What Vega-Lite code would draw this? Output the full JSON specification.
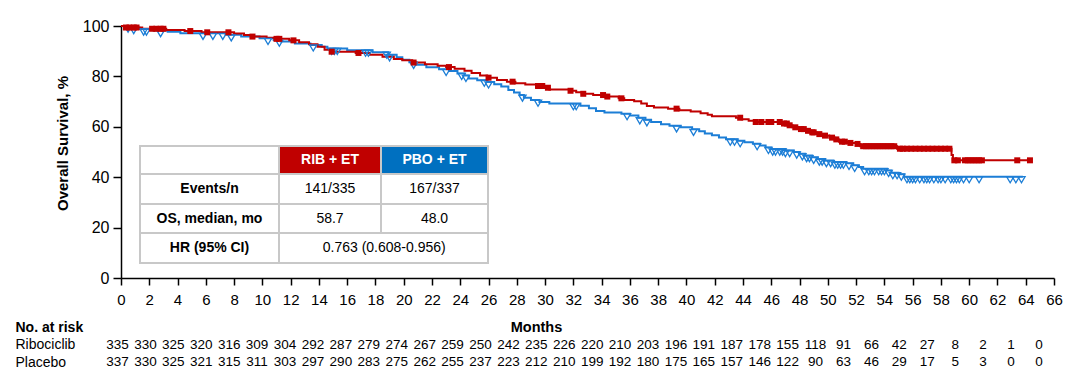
{
  "$schema": "https://vega.github.io/schema/vega-lite/v6.json",
  "width": 933,
  "height": 252,
  "autosize": {"type": "none"},
  "padding": {"left": 121, "top": 26, "right": 26, "bottom": 109},
  "background": "white",
  "config": {"font": "Liberation Sans", "view": {"stroke": null}},
  "datasets": {
    "km": [
      {"arm":"Placebo","t":0,"s":100},{"arm":"Placebo","t":0.7,"s":99.4},{"arm":"Placebo","t":1.3,"s":98.8},{"arm":"Placebo","t":2.3,"s":98.2},{"arm":"Placebo","t":3.3,"s":97.7},{"arm":"Placebo","t":4.2,"s":97.1},{"arm":"Placebo","t":7.4,"s":96.5},{"arm":"Placebo","t":8.5,"s":95.8},{"arm":"Placebo","t":9.8,"s":95.1},{"arm":"Placebo","t":10.8,"s":94.4},{"arm":"Placebo","t":11.3,"s":93.8},{"arm":"Placebo","t":12.3,"s":93.1},{"arm":"Placebo","t":13.4,"s":92.5},{"arm":"Placebo","t":14.2,"s":91.8},{"arm":"Placebo","t":14.6,"s":91.1},{"arm":"Placebo","t":16.0,"s":90.4},{"arm":"Placebo","t":17.8,"s":89.6},{"arm":"Placebo","t":18.9,"s":88.6},{"arm":"Placebo","t":19.5,"s":87.6},{"arm":"Placebo","t":19.9,"s":86.6},{"arm":"Placebo","t":20.4,"s":85.6},{"arm":"Placebo","t":20.9,"s":84.6},{"arm":"Placebo","t":21.6,"s":83.6},{"arm":"Placebo","t":22.5,"s":82.8},{"arm":"Placebo","t":23.2,"s":82.1},{"arm":"Placebo","t":23.8,"s":81.2},{"arm":"Placebo","t":24.3,"s":80.4},{"arm":"Placebo","t":24.6,"s":79.2},{"arm":"Placebo","t":25.2,"s":78.5},{"arm":"Placebo","t":25.9,"s":77.8},{"arm":"Placebo","t":26.4,"s":76.9},{"arm":"Placebo","t":26.9,"s":76.0},{"arm":"Placebo","t":27.4,"s":74.6},{"arm":"Placebo","t":27.8,"s":73.6},{"arm":"Placebo","t":28.2,"s":72.6},{"arm":"Placebo","t":28.5,"s":71.5},{"arm":"Placebo","t":29.0,"s":70.6},{"arm":"Placebo","t":29.6,"s":69.8},{"arm":"Placebo","t":30.3,"s":69.2},{"arm":"Placebo","t":32.5,"s":68.4},{"arm":"Placebo","t":33.1,"s":67.4},{"arm":"Placebo","t":33.6,"s":66.3},{"arm":"Placebo","t":34.2,"s":65.7},{"arm":"Placebo","t":35.4,"s":65.2},{"arm":"Placebo","t":36.0,"s":64.5},{"arm":"Placebo","t":36.6,"s":63.6},{"arm":"Placebo","t":37.1,"s":62.8},{"arm":"Placebo","t":37.5,"s":61.9},{"arm":"Placebo","t":38.2,"s":61.0},{"arm":"Placebo","t":38.8,"s":60.4},{"arm":"Placebo","t":39.6,"s":59.8},{"arm":"Placebo","t":40.4,"s":59.0},{"arm":"Placebo","t":40.9,"s":58.2},{"arm":"Placebo","t":41.3,"s":57.3},{"arm":"Placebo","t":41.8,"s":56.6},{"arm":"Placebo","t":42.3,"s":55.8},{"arm":"Placebo","t":42.8,"s":55.1},{"arm":"Placebo","t":43.6,"s":54.5},{"arm":"Placebo","t":44.1,"s":53.9},{"arm":"Placebo","t":44.7,"s":53.3},{"arm":"Placebo","t":45.2,"s":52.6},{"arm":"Placebo","t":45.6,"s":51.8},{"arm":"Placebo","t":46.0,"s":51.2},{"arm":"Placebo","t":47.0,"s":50.6},{"arm":"Placebo","t":47.6,"s":50.0},{"arm":"Placebo","t":48.0,"s":49.3},{"arm":"Placebo","t":48.4,"s":48.6},{"arm":"Placebo","t":48.9,"s":47.9},{"arm":"Placebo","t":49.3,"s":47.2},{"arm":"Placebo","t":49.8,"s":46.6},{"arm":"Placebo","t":50.4,"s":46.0},{"arm":"Placebo","t":51.3,"s":45.5},{"arm":"Placebo","t":51.8,"s":44.7},{"arm":"Placebo","t":52.2,"s":44.0},{"arm":"Placebo","t":52.5,"s":43.4},{"arm":"Placebo","t":54.2,"s":42.7},{"arm":"Placebo","t":54.5,"s":41.8},{"arm":"Placebo","t":55.0,"s":41.2},{"arm":"Placebo","t":55.4,"s":40.2},{"arm":"Placebo","t":63.8,"s":40.2},
      {"arm":"Ribociclib","t":0,"s":100},{"arm":"Ribociclib","t":0.3,"s":99.4},{"arm":"Ribociclib","t":1.5,"s":98.9},{"arm":"Ribociclib","t":3.2,"s":98.4},{"arm":"Ribociclib","t":4.5,"s":98.0},{"arm":"Ribociclib","t":5.7,"s":97.5},{"arm":"Ribociclib","t":8.0,"s":97.0},{"arm":"Ribociclib","t":8.7,"s":96.4},{"arm":"Ribociclib","t":9.2,"s":95.8},{"arm":"Ribociclib","t":10.3,"s":95.3},{"arm":"Ribociclib","t":11.0,"s":94.9},{"arm":"Ribociclib","t":11.9,"s":94.3},{"arm":"Ribociclib","t":12.6,"s":93.6},{"arm":"Ribociclib","t":13.3,"s":92.8},{"arm":"Ribociclib","t":13.9,"s":91.8},{"arm":"Ribociclib","t":14.4,"s":90.6},{"arm":"Ribociclib","t":14.8,"s":89.8},{"arm":"Ribociclib","t":16.6,"s":89.3},{"arm":"Ribociclib","t":17.6,"s":88.6},{"arm":"Ribociclib","t":18.5,"s":87.8},{"arm":"Ribociclib","t":19.3,"s":86.9},{"arm":"Ribociclib","t":19.9,"s":86.4},{"arm":"Ribociclib","t":20.6,"s":85.5},{"arm":"Ribociclib","t":21.5,"s":84.8},{"arm":"Ribociclib","t":22.4,"s":84.2},{"arm":"Ribociclib","t":23.0,"s":83.7},{"arm":"Ribociclib","t":23.6,"s":83.0},{"arm":"Ribociclib","t":24.3,"s":82.2},{"arm":"Ribociclib","t":24.8,"s":81.3},{"arm":"Ribociclib","t":25.4,"s":80.4},{"arm":"Ribociclib","t":25.9,"s":79.5},{"arm":"Ribociclib","t":26.6,"s":78.6},{"arm":"Ribociclib","t":27.3,"s":77.9},{"arm":"Ribociclib","t":27.9,"s":77.3},{"arm":"Ribociclib","t":28.6,"s":76.8},{"arm":"Ribociclib","t":29.4,"s":76.2},{"arm":"Ribociclib","t":30.0,"s":75.5},{"arm":"Ribociclib","t":30.3,"s":74.8},{"arm":"Ribociclib","t":31.7,"s":74.3},{"arm":"Ribociclib","t":32.2,"s":73.7},{"arm":"Ribociclib","t":32.6,"s":73.1},{"arm":"Ribociclib","t":33.4,"s":72.6},{"arm":"Ribociclib","t":34.3,"s":72.0},{"arm":"Ribociclib","t":35.2,"s":71.3},{"arm":"Ribociclib","t":35.6,"s":70.6},{"arm":"Ribociclib","t":36.3,"s":70.1},{"arm":"Ribociclib","t":36.8,"s":69.2},{"arm":"Ribociclib","t":37.2,"s":68.3},{"arm":"Ribociclib","t":37.7,"s":67.7},{"arm":"Ribociclib","t":38.7,"s":67.2},{"arm":"Ribociclib","t":39.5,"s":66.6},{"arm":"Ribociclib","t":40.3,"s":66.1},{"arm":"Ribociclib","t":41.0,"s":65.4},{"arm":"Ribociclib","t":41.5,"s":64.8},{"arm":"Ribociclib","t":41.8,"s":64.2},{"arm":"Ribociclib","t":43.5,"s":63.6},{"arm":"Ribociclib","t":43.9,"s":63.0},{"arm":"Ribociclib","t":44.4,"s":62.4},{"arm":"Ribociclib","t":44.8,"s":61.9},{"arm":"Ribociclib","t":46.8,"s":61.3},{"arm":"Ribociclib","t":47.2,"s":60.6},{"arm":"Ribociclib","t":47.5,"s":59.8},{"arm":"Ribociclib","t":48.0,"s":59.1},{"arm":"Ribociclib","t":48.4,"s":58.4},{"arm":"Ribociclib","t":48.8,"s":57.8},{"arm":"Ribociclib","t":49.2,"s":57.1},{"arm":"Ribociclib","t":49.6,"s":56.5},{"arm":"Ribociclib","t":50.1,"s":55.7},{"arm":"Ribociclib","t":50.5,"s":55.0},{"arm":"Ribociclib","t":50.8,"s":54.1},{"arm":"Ribociclib","t":51.4,"s":53.6},{"arm":"Ribociclib","t":52.0,"s":53.2},{"arm":"Ribociclib","t":52.3,"s":52.3},{"arm":"Ribociclib","t":54.9,"s":51.3},{"arm":"Ribociclib","t":58.75,"s":48.8},{"arm":"Ribociclib","t":58.85,"s":46.7},{"arm":"Ribociclib","t":64.3,"s":46.7}
    ],
    "cens": [
      {"arm":"Ribociclib","t":0.35,"s":99.4},{"arm":"Ribociclib","t":0.6,"s":99.4},{"arm":"Ribociclib","t":0.9,"s":99.4},{"arm":"Ribociclib","t":1.1,"s":99.4},{"arm":"Ribociclib","t":2.2,"s":98.9},{"arm":"Ribociclib","t":2.5,"s":98.9},{"arm":"Ribociclib","t":2.8,"s":98.9},{"arm":"Ribociclib","t":3.0,"s":98.9},{"arm":"Ribociclib","t":4.9,"s":98.0},{"arm":"Ribociclib","t":6.1,"s":97.5},{"arm":"Ribociclib","t":7.6,"s":97.5},{"arm":"Ribociclib","t":9.3,"s":95.8},{"arm":"Ribociclib","t":11.0,"s":94.9},{"arm":"Ribociclib","t":11.2,"s":94.9},{"arm":"Ribociclib","t":12.2,"s":94.3},{"arm":"Ribociclib","t":14.9,"s":89.8},{"arm":"Ribociclib","t":16.8,"s":89.3},{"arm":"Ribociclib","t":20.7,"s":85.5},{"arm":"Ribociclib","t":23.2,"s":83.7},{"arm":"Ribociclib","t":26.0,"s":79.5},{"arm":"Ribociclib","t":27.7,"s":77.9},{"arm":"Ribociclib","t":29.5,"s":76.2},{"arm":"Ribociclib","t":29.8,"s":76.2},{"arm":"Ribociclib","t":30.2,"s":75.5},{"arm":"Ribociclib","t":31.8,"s":74.3},{"arm":"Ribociclib","t":32.7,"s":73.1},{"arm":"Ribociclib","t":34.1,"s":72.6},{"arm":"Ribociclib","t":34.4,"s":72.0},{"arm":"Ribociclib","t":35.4,"s":71.3},{"arm":"Ribociclib","t":39.3,"s":67.2},{"arm":"Ribociclib","t":43.8,"s":63.6},{"arm":"Ribociclib","t":44.9,"s":61.9},{"arm":"Ribociclib","t":45.3,"s":61.9},{"arm":"Ribociclib","t":45.8,"s":61.9},{"arm":"Ribociclib","t":46.0,"s":61.9},{"arm":"Ribociclib","t":46.6,"s":61.9},{"arm":"Ribociclib","t":46.9,"s":61.3},{"arm":"Ribociclib","t":47.1,"s":61.3},{"arm":"Ribociclib","t":47.3,"s":60.6},{"arm":"Ribociclib","t":47.7,"s":59.8},{"arm":"Ribociclib","t":48.1,"s":59.1},{"arm":"Ribociclib","t":48.3,"s":59.1},{"arm":"Ribociclib","t":48.6,"s":58.4},{"arm":"Ribociclib","t":48.9,"s":57.8},{"arm":"Ribociclib","t":49.0,"s":57.8},{"arm":"Ribociclib","t":49.4,"s":57.1},{"arm":"Ribociclib","t":49.8,"s":56.5},{"arm":"Ribociclib","t":50.3,"s":55.7},{"arm":"Ribociclib","t":50.6,"s":55.0},{"arm":"Ribociclib","t":51.0,"s":54.1},{"arm":"Ribociclib","t":51.2,"s":54.1},{"arm":"Ribociclib","t":51.6,"s":53.6},{"arm":"Ribociclib","t":52.1,"s":53.2},{"arm":"Ribociclib","t":52.5,"s":52.3},{"arm":"Ribociclib","t":52.7,"s":52.3},{"arm":"Ribociclib","t":52.9,"s":52.3},{"arm":"Ribociclib","t":53.1,"s":52.3},{"arm":"Ribociclib","t":53.3,"s":52.3},{"arm":"Ribociclib","t":53.5,"s":52.3},{"arm":"Ribociclib","t":53.7,"s":52.3},{"arm":"Ribociclib","t":53.9,"s":52.3},{"arm":"Ribociclib","t":54.1,"s":52.3},{"arm":"Ribociclib","t":54.3,"s":52.3},{"arm":"Ribociclib","t":54.5,"s":52.3},{"arm":"Ribociclib","t":54.7,"s":52.3},{"arm":"Ribociclib","t":55.1,"s":51.3},{"arm":"Ribociclib","t":55.3,"s":51.3},{"arm":"Ribociclib","t":55.6,"s":51.3},{"arm":"Ribociclib","t":55.9,"s":51.3},{"arm":"Ribociclib","t":56.2,"s":51.3},{"arm":"Ribociclib","t":56.5,"s":51.3},{"arm":"Ribociclib","t":56.8,"s":51.3},{"arm":"Ribociclib","t":57.1,"s":51.3},{"arm":"Ribociclib","t":57.4,"s":51.3},{"arm":"Ribociclib","t":57.7,"s":51.3},{"arm":"Ribociclib","t":58.0,"s":51.3},{"arm":"Ribociclib","t":58.3,"s":51.3},{"arm":"Ribociclib","t":58.6,"s":51.3},{"arm":"Ribociclib","t":58.95,"s":46.7},{"arm":"Ribociclib","t":59.2,"s":46.7},{"arm":"Ribociclib","t":59.7,"s":46.7},{"arm":"Ribociclib","t":59.9,"s":46.7},{"arm":"Ribociclib","t":60.1,"s":46.7},{"arm":"Ribociclib","t":60.3,"s":46.7},{"arm":"Ribociclib","t":60.5,"s":46.7},{"arm":"Ribociclib","t":60.7,"s":46.7},{"arm":"Ribociclib","t":60.9,"s":46.7},{"arm":"Ribociclib","t":63.4,"s":46.7},{"arm":"Ribociclib","t":64.3,"s":46.7},
      {"arm":"Placebo","t":0.5,"s":100},{"arm":"Placebo","t":0.9,"s":99.4},{"arm":"Placebo","t":1.6,"s":98.8},{"arm":"Placebo","t":1.8,"s":98.8},{"arm":"Placebo","t":2.8,"s":98.2},{"arm":"Placebo","t":5.8,"s":97.1},{"arm":"Placebo","t":6.5,"s":97.1},{"arm":"Placebo","t":7.2,"s":97.1},{"arm":"Placebo","t":7.8,"s":96.5},{"arm":"Placebo","t":10.4,"s":95.1},{"arm":"Placebo","t":11.2,"s":94.4},{"arm":"Placebo","t":13.6,"s":92.5},{"arm":"Placebo","t":14.9,"s":91.1},{"arm":"Placebo","t":15.1,"s":91.1},{"arm":"Placebo","t":15.3,"s":91.1},{"arm":"Placebo","t":17.3,"s":90.4},{"arm":"Placebo","t":17.5,"s":90.4},{"arm":"Placebo","t":18.8,"s":89.6},{"arm":"Placebo","t":19.0,"s":88.6},{"arm":"Placebo","t":20.7,"s":85.6},{"arm":"Placebo","t":23.0,"s":82.8},{"arm":"Placebo","t":24.1,"s":81.2},{"arm":"Placebo","t":24.4,"s":80.4},{"arm":"Placebo","t":25.7,"s":78.5},{"arm":"Placebo","t":26.0,"s":77.8},{"arm":"Placebo","t":28.4,"s":72.6},{"arm":"Placebo","t":29.5,"s":70.6},{"arm":"Placebo","t":32.0,"s":69.2},{"arm":"Placebo","t":32.2,"s":69.2},{"arm":"Placebo","t":35.8,"s":65.2},{"arm":"Placebo","t":36.7,"s":63.6},{"arm":"Placebo","t":37.2,"s":62.8},{"arm":"Placebo","t":39.3,"s":60.4},{"arm":"Placebo","t":40.5,"s":59.0},{"arm":"Placebo","t":43.1,"s":55.1},{"arm":"Placebo","t":43.4,"s":55.1},{"arm":"Placebo","t":43.8,"s":54.5},{"arm":"Placebo","t":45.0,"s":53.3},{"arm":"Placebo","t":45.8,"s":51.8},{"arm":"Placebo","t":46.1,"s":51.2},{"arm":"Placebo","t":46.3,"s":51.2},{"arm":"Placebo","t":46.6,"s":51.2},{"arm":"Placebo","t":46.8,"s":51.2},{"arm":"Placebo","t":47.0,"s":50.6},{"arm":"Placebo","t":47.3,"s":50.6},{"arm":"Placebo","t":47.8,"s":50.0},{"arm":"Placebo","t":48.2,"s":49.3},{"arm":"Placebo","t":48.5,"s":48.6},{"arm":"Placebo","t":48.7,"s":48.6},{"arm":"Placebo","t":49.0,"s":47.9},{"arm":"Placebo","t":49.4,"s":47.2},{"arm":"Placebo","t":49.6,"s":47.2},{"arm":"Placebo","t":49.9,"s":46.6},{"arm":"Placebo","t":50.2,"s":46.6},{"arm":"Placebo","t":50.5,"s":46.0},{"arm":"Placebo","t":50.7,"s":46.0},{"arm":"Placebo","t":50.9,"s":46.0},{"arm":"Placebo","t":51.1,"s":46.0},{"arm":"Placebo","t":51.5,"s":45.5},{"arm":"Placebo","t":51.9,"s":44.7},{"arm":"Placebo","t":52.6,"s":43.4},{"arm":"Placebo","t":52.9,"s":43.4},{"arm":"Placebo","t":53.1,"s":43.4},{"arm":"Placebo","t":53.3,"s":43.4},{"arm":"Placebo","t":53.6,"s":43.4},{"arm":"Placebo","t":53.8,"s":43.4},{"arm":"Placebo","t":54.0,"s":43.4},{"arm":"Placebo","t":54.3,"s":42.7},{"arm":"Placebo","t":54.6,"s":41.8},{"arm":"Placebo","t":54.9,"s":41.8},{"arm":"Placebo","t":55.2,"s":41.2},{"arm":"Placebo","t":55.6,"s":40.2},{"arm":"Placebo","t":55.8,"s":40.2},{"arm":"Placebo","t":56.0,"s":40.2},{"arm":"Placebo","t":56.2,"s":40.2},{"arm":"Placebo","t":56.5,"s":40.2},{"arm":"Placebo","t":56.8,"s":40.2},{"arm":"Placebo","t":57.0,"s":40.2},{"arm":"Placebo","t":57.2,"s":40.2},{"arm":"Placebo","t":57.5,"s":40.2},{"arm":"Placebo","t":57.8,"s":40.2},{"arm":"Placebo","t":58.0,"s":40.2},{"arm":"Placebo","t":58.3,"s":40.2},{"arm":"Placebo","t":58.7,"s":40.2},{"arm":"Placebo","t":58.9,"s":40.2},{"arm":"Placebo","t":59.1,"s":40.2},{"arm":"Placebo","t":59.3,"s":40.2},{"arm":"Placebo","t":59.6,"s":40.2},{"arm":"Placebo","t":60.0,"s":40.2},{"arm":"Placebo","t":60.7,"s":40.2},{"arm":"Placebo","t":62.9,"s":40.2},{"arm":"Placebo","t":63.3,"s":40.2},{"arm":"Placebo","t":63.7,"s":40.2}
    ],
    "risk": [
      {"arm":"Ribociclib","t":0,"n":335},{"arm":"Ribociclib","t":2,"n":330},{"arm":"Ribociclib","t":4,"n":325},{"arm":"Ribociclib","t":6,"n":320},{"arm":"Ribociclib","t":8,"n":316},{"arm":"Ribociclib","t":10,"n":309},{"arm":"Ribociclib","t":12,"n":304},{"arm":"Ribociclib","t":14,"n":292},{"arm":"Ribociclib","t":16,"n":287},{"arm":"Ribociclib","t":18,"n":279},{"arm":"Ribociclib","t":20,"n":274},{"arm":"Ribociclib","t":22,"n":267},{"arm":"Ribociclib","t":24,"n":259},{"arm":"Ribociclib","t":26,"n":250},{"arm":"Ribociclib","t":28,"n":242},{"arm":"Ribociclib","t":30,"n":235},{"arm":"Ribociclib","t":32,"n":226},{"arm":"Ribociclib","t":34,"n":220},{"arm":"Ribociclib","t":36,"n":210},{"arm":"Ribociclib","t":38,"n":203},{"arm":"Ribociclib","t":40,"n":196},{"arm":"Ribociclib","t":42,"n":191},{"arm":"Ribociclib","t":44,"n":187},{"arm":"Ribociclib","t":46,"n":178},{"arm":"Ribociclib","t":48,"n":155},{"arm":"Ribociclib","t":50,"n":118},{"arm":"Ribociclib","t":52,"n":91},{"arm":"Ribociclib","t":54,"n":66},{"arm":"Ribociclib","t":56,"n":42},{"arm":"Ribociclib","t":58,"n":27},{"arm":"Ribociclib","t":60,"n":8},{"arm":"Ribociclib","t":62,"n":2},{"arm":"Ribociclib","t":64,"n":1},{"arm":"Ribociclib","t":66,"n":0},
      {"arm":"Placebo","t":0,"n":337},{"arm":"Placebo","t":2,"n":330},{"arm":"Placebo","t":4,"n":325},{"arm":"Placebo","t":6,"n":321},{"arm":"Placebo","t":8,"n":315},{"arm":"Placebo","t":10,"n":311},{"arm":"Placebo","t":12,"n":303},{"arm":"Placebo","t":14,"n":297},{"arm":"Placebo","t":16,"n":290},{"arm":"Placebo","t":18,"n":283},{"arm":"Placebo","t":20,"n":275},{"arm":"Placebo","t":22,"n":262},{"arm":"Placebo","t":24,"n":255},{"arm":"Placebo","t":26,"n":237},{"arm":"Placebo","t":28,"n":223},{"arm":"Placebo","t":30,"n":212},{"arm":"Placebo","t":32,"n":210},{"arm":"Placebo","t":34,"n":199},{"arm":"Placebo","t":36,"n":192},{"arm":"Placebo","t":38,"n":180},{"arm":"Placebo","t":40,"n":175},{"arm":"Placebo","t":42,"n":165},{"arm":"Placebo","t":44,"n":157},{"arm":"Placebo","t":46,"n":146},{"arm":"Placebo","t":48,"n":122},{"arm":"Placebo","t":50,"n":90},{"arm":"Placebo","t":52,"n":63},{"arm":"Placebo","t":54,"n":46},{"arm":"Placebo","t":56,"n":29},{"arm":"Placebo","t":58,"n":17},{"arm":"Placebo","t":60,"n":5},{"arm":"Placebo","t":62,"n":3},{"arm":"Placebo","t":64,"n":0},{"arm":"Placebo","t":66,"n":0}
    ],
    "tcells": [
      {"kind":"blank","c0":0,"c1":1,"r0":0,"r1":1},
      {"kind":"rib","c0":1,"c1":2,"r0":0,"r1":1},
      {"kind":"pbo","c0":2,"c1":3,"r0":0,"r1":1},
      {"kind":"blank","c0":0,"c1":1,"r0":1,"r1":2},
      {"kind":"blank","c0":1,"c1":2,"r0":1,"r1":2},
      {"kind":"blank","c0":2,"c1":3,"r0":1,"r1":2},
      {"kind":"blank","c0":0,"c1":1,"r0":2,"r1":3},
      {"kind":"blank","c0":1,"c1":2,"r0":2,"r1":3},
      {"kind":"blank","c0":2,"c1":3,"r0":2,"r1":3},
      {"kind":"blank","c0":0,"c1":1,"r0":3,"r1":4},
      {"kind":"blank","c0":1,"c1":3,"r0":3,"r1":4}
    ],
    "ttext": [
      {"txt":"RIB + ET","cx":1.5,"cy":0.5,"sty":"hdr"},
      {"txt":"PBO + ET","cx":2.5,"cy":0.5,"sty":"hdr"},
      {"txt":"Events/n","cx":0.5,"cy":1.5,"sty":"lbl"},
      {"txt":"141/335","cx":1.5,"cy":1.5,"sty":"val"},
      {"txt":"167/337","cx":2.5,"cy":1.5,"sty":"val"},
      {"txt":"OS, median, mo","cx":0.5,"cy":2.5,"sty":"lbl"},
      {"txt":"58.7","cx":1.5,"cy":2.5,"sty":"val"},
      {"txt":"48.0","cx":2.5,"cy":2.5,"sty":"val"},
      {"txt":"HR (95% CI)","cx":0.5,"cy":3.5,"sty":"lbl"},
      {"txt":"0.763 (0.608-0.956)","cx":2.03,"cy":3.5,"sty":"val"}
    ]
  },
  "layer": [
    {
      "encoding": {
        "x": {"field": "t", "type": "quantitative", "scale": {"domain": [0, 66], "nice": false, "zero": false},
          "axis": {"values": [0,2,4,6,8,10,12,14,16,18,20,22,24,26,28,30,32,34,36,38,40,42,44,46,48,50,52,54,56,58,60,62,64,66],
            "tickCount": 34, "grid": false, "tickSize": 7, "tickWidth": 1.5, "tickColor": "black", "domainColor": "black", "domainWidth": 1.5,
            "labelFontSize": 15, "labelColor": "black", "labelPadding": 7, "labelOverlap": false, "labelFlush": false, "labelSeparation": 0,
            "title": "Months", "titleFontSize": 14.5, "titleFontWeight": "bold", "titleColor": "black",
            "titleX": 415, "titleY": 49, "titleBaseline": "middle"}},
        "y": {"field": "s", "type": "quantitative", "scale": {"domain": [0, 100], "nice": false},
          "axis": {"values": [0,20,40,60,80,100], "grid": false, "tickSize": 8, "tickWidth": 1.5, "tickColor": "black",
            "domainColor": "black", "domainWidth": 1.5, "labelFontSize": 16, "labelColor": "black", "labelPadding": 4,
            "title": "Overall Survival, %", "titleFontSize": 15, "titleFontWeight": "bold", "titleColor": "black",
            "titleX": -59, "titleY": 117, "titleBaseline": "middle"}}
      },
      "layer": [
        {
          "data": {"name": "km"},
          "transform": [{"filter": "datum.arm === 'Placebo'"}],
          "mark": {"type": "line", "interpolate": "step-after", "color": "#1C7ED6", "strokeWidth": 2}
        },
        {
          "data": {"name": "km"},
          "transform": [{"filter": "datum.arm === 'Ribociclib'"}],
          "mark": {"type": "line", "interpolate": "step-after", "color": "#C00000", "strokeWidth": 2}
        },
        {
          "data": {"name": "cens"},
          "transform": [{"filter": "datum.arm === 'Placebo'"}],
          "mark": {"type": "point", "shape": "M-1,0L1,0L0,1.7Z", "filled": false, "stroke": "#1C7ED6", "strokeWidth": 1.3, "size": 52, "opacity": 1}
        },
        {
          "data": {"name": "cens"},
          "transform": [{"filter": "datum.arm === 'Ribociclib'"}],
          "mark": {"type": "point", "shape": "square", "filled": true, "color": "#C00000", "size": 36, "opacity": 1}
        }
      ]
    },
    {
      "layer": [
        {
          "data": {"name": "tcells"},
          "mark": {"type": "rect", "stroke": "#C8C8C8", "strokeWidth": 2},
          "encoding": {
            "x": {"field": "c0", "type": "quantitative", "scale": {"domain": [0, 1, 2, 3], "range": [19, 158, 260, 367], "nice": false, "zero": false}, "axis": null},
            "x2": {"field": "c1"},
            "y": {"field": "r0", "type": "quantitative", "scale": {"domain": [0, 1, 2, 3, 4], "range": [120, 148, 178, 207, 237], "nice": false, "zero": false}, "axis": null},
            "y2": {"field": "r1"},
            "fill": {"condition": [{"test": "datum.kind === 'rib'", "value": "#C00000"}, {"test": "datum.kind === 'pbo'", "value": "#0070C0"}], "value": "white"}
          }
        },
        {
          "data": {"name": "ttext"},
          "transform": [{"filter": "datum.sty !== 'val'"}],
          "mark": {"type": "text", "fontSize": 14, "fontWeight": "bold", "baseline": "middle", "align": "center"},
          "encoding": {
            "x": {"field": "cx", "type": "quantitative"},
            "y": {"field": "cy", "type": "quantitative"},
            "text": {"field": "txt"},
            "color": {"condition": {"test": "datum.sty === 'hdr'", "value": "white"}, "value": "black"}
          }
        },
        {
          "data": {"name": "ttext"},
          "transform": [{"filter": "datum.sty === 'val'"}],
          "mark": {"type": "text", "fontSize": 14, "baseline": "middle", "align": "center", "color": "black"},
          "encoding": {
            "x": {"field": "cx", "type": "quantitative"},
            "y": {"field": "cy", "type": "quantitative"},
            "text": {"field": "txt"}
          }
        }
      ]
    },
    {
      "data": {"name": "risk"},
      "mark": {"type": "text", "fontSize": 13.5, "color": "black", "baseline": "middle", "align": "center"},
      "encoding": {
        "x": {"field": "t", "type": "quantitative", "scale": {"domain": [0.25, 67.08], "nice": false, "zero": false}, "axis": null},
        "y": {"field": "arm", "type": "nominal",
          "scale": {"type": "point", "domain": ["No. at risk", "Ribociclib", "Placebo"], "range": [301, 336], "padding": 0},
          "axis": {"orient": "left", "domain": false, "ticks": false, "tickSize": 0, "labelAlign": "left", "labelPadding": 106,
            "labelFontSize": 14, "labelColor": "black", "title": null, "grid": false,
            "labelFontWeight": {"condition": {"test": "datum.value === 'No. at risk'", "value": "bold"}, "value": "normal"}}},
        "text": {"field": "n", "type": "quantitative"}
      }
    }
  ],
  "resolve": {"scale": {"x": "independent", "y": "independent"}}
}
